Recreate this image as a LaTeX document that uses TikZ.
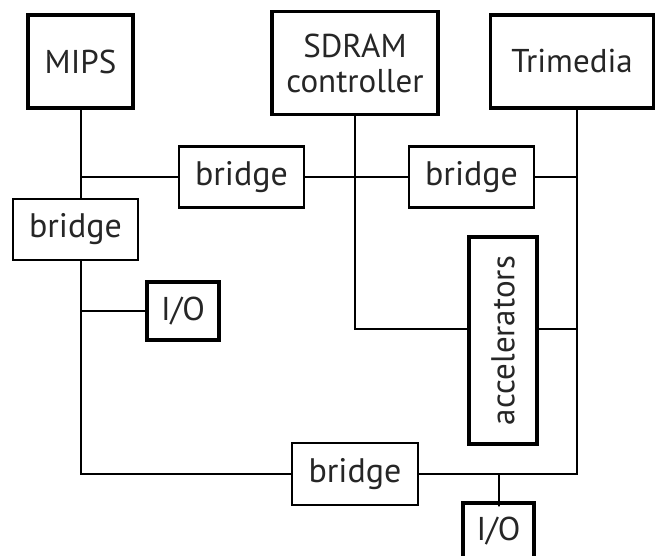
\documentclass[tikz,border=0pt]{standalone}
\usepackage{fontspec}
\setmainfont{PT Sans}
\begin{document}
\begin{tikzpicture}[x=1pt,y=-1pt,
    blk/.style={draw,line width=3.2pt,inner sep=0pt,text=black!85,font=\fontsize{33}{35}\selectfont},
    brg/.style={draw,line width=2.6pt,inner sep=0pt,text=black!85,minimum width=125pt,minimum height=61pt,font=\fontsize{34}{36}\selectfont},
    wire/.style={line width=2pt}]
    \useasboundingbox[fill=white] (0,0) rectangle (655,556);

    % processors and memory
    \node[blk,minimum width=105pt,minimum height=93pt] (mips) at (80.5,61.5) {MIPS};
    \node[blk,minimum width=166pt,minimum height=103pt,align=center] (sdram) at (355,63) {SDRAM\\controller};
    \node[blk,minimum width=163pt,minimum height=93pt] (tri) at (572,61.5) {Trimedia};

    % bridges
    \node[brg] (brA) at (241.5,177) {bridge};
    \node[brg] (brB) at (471.5,177) {bridge};
    \node[brg] (brL) at (75.5,229.5) {bridge};
    \node[brg,minimum width=126pt,minimum height=62pt] (brD) at (355,474) {bridge};

    % peripherals
    \node[blk,minimum width=72pt,minimum height=58pt] (ioL) at (183,311) {I/O};
    \node[blk,minimum width=68pt,minimum height=207pt] (acc) at (503,340.5) {\rotatebox{90}{accelerators}};
    \node[blk,minimum width=71pt,minimum height=56pt] (ioD) at (498.5,531) {I/O};

    \coordinate (tb) at (577,108);
    \coordinate (sj) at (356,329);

    % left bus
    \draw[wire] (mips.south) -- (mips.south |- brL.north);
    \draw[wire] (mips.south |- brA.west) -- (brA.west);
    \draw[wire] (brL.south -| mips.south) -- (mips.south |- brD.west) -- (brD.west);
    \draw[wire] (mips.south |- ioL.west) -- (ioL.west);

    % middle and right
    \draw[wire] (brA.east) -- (brB.west);
    \draw[wire] (sdram.south) -- (sdram.south |- sj) -- (acc.west |- sj);
    \draw[wire] (tri.south -| tb) -- (tb |- brD.east) -- (brD.east);
    \draw[wire] (brB.east) -- (brB.east -| tb);
    \draw[wire] (acc.east |- sj) -- (acc.east |- sj -| tb);
    \draw[wire] (ioD.north) -- (ioD.north |- brD.south) -- (ioD.north |- brD.east);
\end{tikzpicture}
\end{document}
